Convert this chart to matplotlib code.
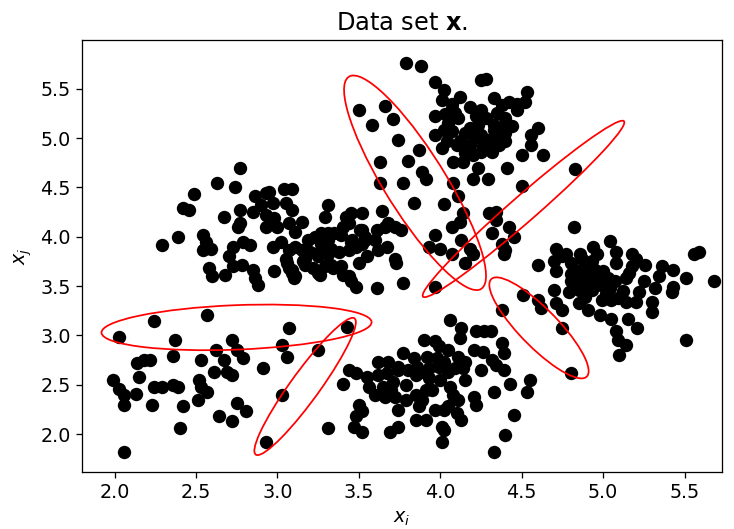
import matplotlib
matplotlib.use('Agg')
import matplotlib.pyplot as plt
from matplotlib.patches import Ellipse
import numpy as np


# points, grouped roughly by blob
left_x = [2.77, 2.63, 2.74, 2.49, 2.42, 2.46, 2.86, 2.93, 2.95, 3.04, 3.09, 2.90, 2.97, 3.05, 3.09,
          2.77, 2.67, 2.77, 2.76, 2.93, 2.98, 2.93, 3.07, 3.11, 2.29, 2.39, 2.54, 2.56, 2.54, 2.59,
          2.73, 2.79, 2.83, 2.97, 3.02, 3.07, 3.11, 3.15, 3.05, 3.07, 3.11, 2.58, 2.60, 2.68, 2.73,
          2.78, 2.85, 2.86, 2.88, 2.98, 3.09, 3.06,
          3.31, 3.29, 3.42, 3.45, 3.52, 3.44, 3.64, 3.61, 3.66, 3.23, 3.27, 3.31, 3.35, 3.39, 3.27,
          3.31, 3.25, 3.17, 3.17, 3.44, 3.48, 3.52, 3.54, 3.52, 3.62, 3.67, 3.25, 3.29, 3.33, 3.39,
          3.44, 3.48, 3.50, 3.61, 3.68, 3.72, 3.76, 3.31, 3.19, 3.27, 3.33, 3.46, 3.51, 3.54, 3.60,
          3.72, 3.73, 3.77, 3.45, 3.40, 3.34, 3.26, 3.22, 3.09, 3.10, 3.16,
          2.85, 3.00, 3.15, 3.30, 3.38, 3.45, 3.20, 2.70, 3.40, 3.55]
left_y = [4.70, 4.54, 4.50, 4.43, 4.29, 4.27, 4.41, 4.44, 4.45, 4.48, 4.48, 4.32, 4.34, 4.34, 4.27,
          4.27, 4.20, 4.14, 4.10, 4.22, 4.19, 4.10, 4.14, 4.05, 3.92, 4.00, 4.02, 3.95, 3.87, 3.88,
          3.90, 3.95, 3.92, 3.90, 3.95, 3.87, 3.90, 3.87, 3.77, 3.68, 3.60, 3.68, 3.60, 3.61, 3.70,
          3.71, 3.66, 3.58, 3.51, 3.65, 3.63, 3.73,
          4.32, 4.20, 4.20, 4.24, 4.24, 4.14, 4.26, 4.07, 4.10, 4.00, 4.04, 3.97, 4.04, 4.02, 3.87,
          3.83, 3.80, 3.77, 3.71, 3.87, 3.90, 3.93, 4.00, 4.07, 3.87, 3.90, 3.63, 3.70, 3.71, 3.70,
          3.60, 3.49, 3.73, 3.48, 4.14, 4.10, 4.07, 4.04, 3.97, 3.93, 3.88, 3.97, 4.07, 3.97, 3.97,
          3.77, 3.73, 3.53, 3.55, 3.61, 3.68, 3.61, 3.68, 3.66, 3.58, 3.75,
          4.25, 4.10, 4.15, 3.90, 3.85, 3.95, 3.85, 3.80, 4.10, 3.80]

top_x = [3.79, 3.88, 3.50, 3.66, 3.58, 3.71, 3.74, 3.87, 3.80, 3.63, 3.89, 3.91, 3.77, 3.63, 3.84,
         4.02, 4.08, 4.11, 4.14, 4.12, 4.07, 4.13, 4.18, 3.97, 4.00, 3.93, 4.30, 4.34, 4.32, 4.34,
         4.07, 4.15, 4.20, 3.97,
         4.25, 4.28, 3.97, 4.02, 4.01, 4.07, 4.12, 3.97, 4.03, 4.09, 4.11, 4.25, 4.33, 4.42, 4.47,
         4.53, 4.52, 3.97, 4.02, 4.04, 4.07, 4.01, 4.10, 4.18, 4.23, 4.21, 4.18, 4.25, 4.15, 4.20,
         4.25, 4.33, 4.40, 4.44, 4.34, 4.40, 4.36, 4.32, 4.60, 4.56, 4.56, 4.50, 4.63, 4.41, 4.29,
         4.20, 4.23, 4.08, 4.14, 4.50, 4.47, 4.38, 4.38, 4.83, 4.42, 4.45, 4.82, 4.38, 4.40, 4.39,
         4.05, 4.15, 4.28, 4.30, 4.12, 4.35, 4.22, 4.07, 4.18, 4.26, 4.40, 4.33]
top_y = [5.76, 5.73, 5.29, 5.33, 5.13, 5.19, 4.98, 4.88, 4.77, 4.76, 4.66, 4.59, 4.54, 4.54, 4.34,
         4.33, 4.54, 4.41, 4.24, 4.15, 4.10, 3.97, 3.88, 4.02, 3.88, 3.90, 4.24, 4.17, 4.04, 4.25,
         3.83, 3.73, 3.83, 3.49,
         5.59, 5.60, 5.57, 5.49, 5.39, 5.30, 5.42, 5.22, 5.24, 5.25, 5.20, 5.29, 5.41, 5.37, 5.35,
         5.47, 5.37, 5.03, 5.08, 4.97, 5.07, 4.90, 4.93, 5.10, 5.13, 5.00, 4.93, 5.03, 4.85, 4.83,
         4.86, 5.13, 5.20, 5.12, 5.03, 5.05, 4.93, 4.86, 5.10, 5.03, 4.93, 4.83, 4.83, 4.70, 4.59,
         4.59, 4.70, 4.76, 4.76, 4.51, 5.29, 5.34, 5.10, 4.69, 4.10, 4.00, 4.10, 3.93, 3.87, 3.83,
         5.15, 5.05, 5.20, 4.98, 4.97, 5.25, 5.22, 5.35, 5.32, 4.92, 4.97, 5.08]

right_x = [4.71, 4.77, 4.86, 4.94, 4.96, 5.04, 5.08, 5.18, 5.26, 5.56, 5.59, 4.60, 4.70, 4.71, 4.80,
           4.87, 4.91, 4.95, 5.08, 5.18, 5.20, 5.36, 5.43, 5.34, 5.51, 5.68, 4.80, 4.85, 4.91, 4.95,
           5.03, 5.07, 5.14, 5.16, 5.04, 4.79, 4.85, 4.89, 4.93, 4.85, 4.91, 4.99, 5.05, 5.09, 4.98,
           5.05, 5.14, 5.22, 5.20, 5.30, 5.32, 5.30, 5.43, 5.42, 4.70, 4.71, 4.75, 4.51, 4.60, 4.62,
           4.75, 5.15, 5.21, 5.08, 5.09, 5.14, 5.10, 5.51, 4.38, 4.38, 4.39, 4.39, 4.80, 4.43, 4.55,
           4.53, 4.45, 4.40, 4.33,
           4.85, 4.90, 4.97, 5.00, 5.02, 4.88, 4.80, 5.12, 5.25, 5.00, 4.93, 4.75]
right_y = [3.88, 3.83, 3.83, 3.90, 3.83, 3.96, 3.85, 3.83, 3.71, 3.83, 3.85, 3.71, 3.75, 3.65, 3.73,
           3.77, 3.70, 3.66, 3.73, 3.70, 3.77, 3.70, 3.66, 3.60, 3.58, 3.55, 3.55, 3.58, 3.55, 3.51,
           3.58, 3.55, 3.58, 3.63, 3.48, 3.44, 3.46, 3.39, 3.46, 3.33, 3.26, 3.36, 3.36, 3.38, 3.21,
           3.17, 3.34, 3.44, 3.34, 3.34, 3.48, 3.24, 3.49, 3.44, 3.46, 3.33, 3.26, 3.41, 3.36, 3.28,
           3.07, 3.17, 3.07, 3.04, 2.95, 2.90, 2.80, 2.95, 3.26, 2.92, 2.82, 2.65, 2.62, 2.51, 2.55,
           2.43, 2.19, 1.99, 1.82,
           3.65, 3.60, 3.58, 3.50, 3.42, 3.52, 3.62, 3.45, 3.55, 3.65, 3.75, 3.80]

bottom_x = [3.43, 4.06, 4.13, 4.12, 4.22, 4.27, 4.31, 3.90, 3.97, 3.99, 4.21, 4.26, 3.77, 3.84, 3.86,
            3.62, 3.68, 3.74, 3.98, 4.02, 4.11, 4.15, 4.09, 4.14, 4.32, 4.34, 3.44, 3.48, 3.40, 3.62,
            3.67, 3.71, 3.74, 3.56, 3.65, 3.79, 3.85, 3.88, 3.93, 3.93, 3.99, 4.05, 4.06, 4.08, 4.11,
            3.91, 3.89, 3.87, 3.66, 3.72, 3.74, 3.79, 4.33, 4.21, 4.22, 3.50, 3.52, 3.48, 3.47, 3.52,
            3.97, 4.02, 4.05, 4.10, 4.13, 3.85, 3.91, 4.01, 4.02, 4.01, 3.69, 3.74, 3.31, 3.25, 3.07,
            3.06,
            3.80, 3.95, 3.85, 4.00, 3.70, 3.60, 4.15, 4.25, 3.55, 4.05, 3.92]
bottom_y = [3.09, 3.16, 3.07, 2.97, 3.04, 3.04, 3.04, 2.95, 2.94, 2.89, 2.85, 2.83, 2.82, 2.77, 2.68,
            2.73, 2.73, 2.68, 2.77, 2.73, 2.78, 2.73, 2.67, 2.67, 2.75, 2.70, 2.65, 2.62, 2.51, 2.60,
            2.62, 2.53, 2.65, 2.48, 2.48, 2.50, 2.60, 2.63, 2.57, 2.67, 2.68, 2.63, 2.48, 2.40, 2.34,
            2.45, 2.34, 2.28, 2.38, 2.38, 2.24, 2.34, 2.43, 2.38, 2.29, 2.29, 2.23, 2.18, 2.07, 2.02,
            2.24, 2.24, 2.28, 2.21, 2.14, 2.14, 2.14, 2.07, 2.04, 1.92, 2.02, 2.07, 2.06, 2.85, 3.07,
            2.78,
            2.65, 2.45, 2.40, 2.55, 2.45, 2.40, 2.55, 2.65, 2.58, 2.85, 2.78]

low_left_x = [2.57, 2.24, 2.03, 2.37, 2.72, 2.62, 2.67, 2.75, 2.79, 3.03, 2.14, 2.18, 2.22, 2.36, 2.53,
              2.61, 2.69, 2.72, 2.91, 2.15, 1.99, 2.03, 2.06, 2.06, 2.13, 2.24, 2.29, 2.36, 2.39, 2.52,
              2.53, 2.57, 2.51, 2.23, 2.42, 2.75, 2.81, 2.64, 2.72, 2.40, 3.03, 2.93, 2.06]
low_left_y = [3.21, 3.15, 2.98, 2.95, 2.95, 2.85, 2.75, 2.85, 2.77, 2.90, 2.72, 2.75, 2.75, 2.79, 2.75,
              2.63, 2.63, 2.60, 2.67, 2.58, 2.55, 2.46, 2.40, 2.29, 2.41, 2.48, 2.48, 2.50, 2.48, 2.55,
              2.48, 2.43, 2.34, 2.29, 2.28, 2.31, 2.23, 2.18, 2.13, 2.06, 2.40, 1.92, 1.82]

# ellipses: centre, full width, full height, angle (deg, data space)
ell_cx = [2.749, 3.170, 3.845, 4.511, 4.606]
ell_cy = [3.081, 2.482, 4.547, 4.282, 3.076]
ell_w = [1.662, 1.512, 2.308, 2.167, 1.159]
ell_h = [0.45, 0.20, 0.41, 0.20, 0.28]
ell_ang = [3.9, 66.8, -70.2, 55.5, -61.2]

xs = left_x + top_x + right_x + bottom_x + low_left_x
ys = left_y + top_y + right_y + bottom_y + low_left_y

plt.rcParams['font.size'] = 12

fig = plt.figure(figsize=(734 / 115, 529 / 115), dpi=115)
ax = fig.add_axes([0.1117, 0.1078, 0.872, 0.8166])
ax.scatter(xs, ys, s=70, c='k', linewidths=0)

for cx, cy, w, h, a in zip(ell_cx, ell_cy, ell_w, ell_h, ell_ang):
    ax.add_patch(Ellipse((cx, cy), w, h, angle=a, fill=False, edgecolor='red', linewidth=1.1))

ax.set_xlim(1.80, 5.73)
ax.set_ylim(1.615, 5.995)
ax.set_xticks(np.arange(2.0, 5.51, 0.5))
ax.set_yticks(np.arange(2.0, 5.51, 0.5))
ax.set_title(r'Data set $\mathbf{x}$.', fontsize=15)
ax.set_xlabel(r'$x_i$')
ax.set_ylabel(r'$x_j$')

fig.savefig('out.png', dpi=115)
